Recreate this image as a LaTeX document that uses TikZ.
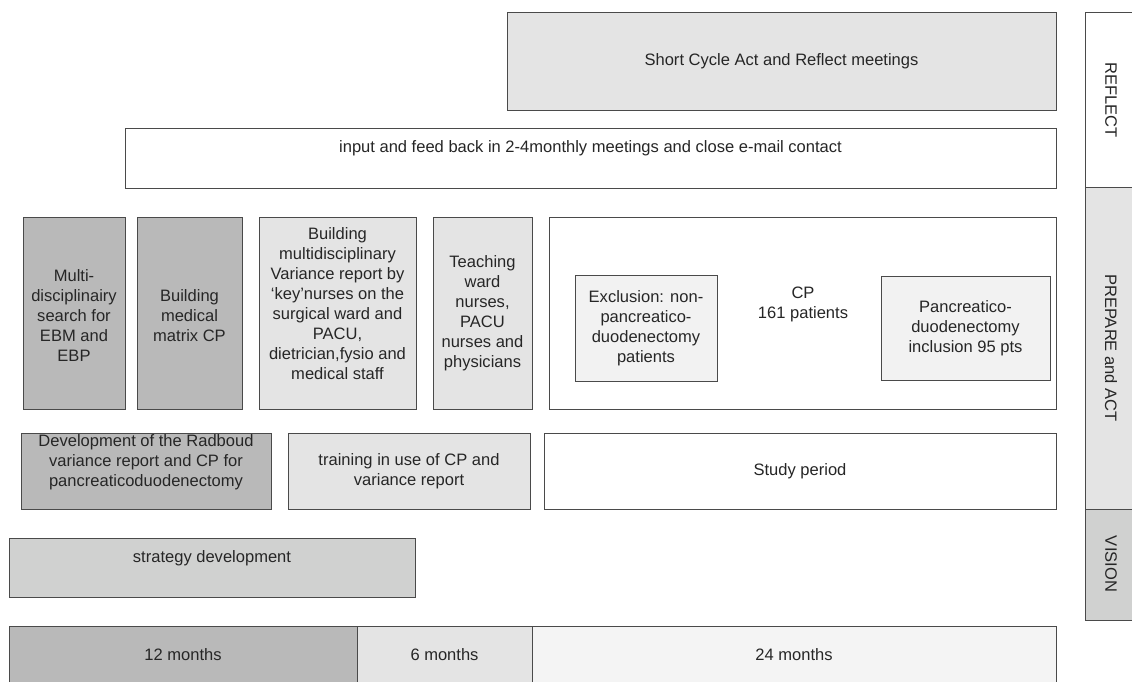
\documentclass[tikz,border=0pt]{standalone}
\usepackage{fontspec}
\setmainfont{Liberation Sans}
\usetikzlibrary{fit}
\definecolor{dk}{HTML}{B9B9B9}
\definecolor{lt}{HTML}{E4E4E4}
\definecolor{md}{HTML}{D0D1D0}
\definecolor{vl}{HTML}{F2F2F2}
\definecolor{wl}{HTML}{F4F4F4}
\definecolor{ln}{HTML}{4A4A4A}
\begin{document}
\begin{tikzpicture}[x=0.75pt,y=-0.75pt,
  box/.style={draw=ln,line width=0.65pt,inner sep=0pt},
  txt/.style={align=center,inner sep=0pt,font=\fontsize{12.4}{15}\selectfont,text=black!85}]
\useasboundingbox (0,0) rectangle (1132,682);
\clip (0,0) rectangle (1132,682);
% reflect row
\node[box,fill=lt,fit={(507,12)(1056,110)}] (sc) {};
\node[txt] (sct) at (sc.center) {Short Cycle Act and Reflect meetings};
\node[box,fill=white,fit={(125,128)(1056,188)}] (fb) {};
\node[txt] (fbt) at (590.5,148) {input and feed back in 2-4monthly meetings and close e-mail contact};
% columns
\node[box,fill=dk,fit={(23,217)(125,409)}] (c1) {};
\node[txt] (c1t) at (74,316) {Multi-\\disciplinairy\\search for\\EBM and\\EBP};
\node[box,fill=dk,fit={(137,217)(242,409)}] (c2) {};
\node[txt] (c2t) at (189.5,316) {Building\\medical\\matrix CP};
\node[box,fill=lt,fit={(259,217)(416,409)}] (c3) {};
\node[txt] (c3t) at (337.5,304) {Building\\multidisciplinary\\Variance report by\\‘key’nurses on the\\surgical ward and\\PACU,\\dietrician,fysio and\\medical staff};
\node[box,fill=lt,fit={(433,217)(532,409)}] (c4) {};
\node[txt] (c4t) at (482.5,313) {Teaching\\ward\\nurses,\\PACU\\nurses and\\physicians};
\node[box,fill=white,fit={(549,217)(1056,409)}] (cp) {};
\node[txt] (cpt) at (803,304) {CP\\161 patients};
\node[box,fill=vl,fit={(575,275)(717,381)}] (ex) {};
\node[txt] (ext) at (ex.center) {Exclusion: non-\\pancreatico-\\duodenectomy\\patients};
\node[box,fill=vl,fit={(881,276)(1050,380)}] (pd) {};
\node[txt] (pdt) at (pd.center) {Pancreatico-\\duodenectomy\\inclusion 95 pts};
% second row
\node[box,fill=dk,fit={(21,433)(271,509)}] (dv) {};
\node[txt] (dvt) at (146,462) {Development of the Radboud\\variance report and CP for\\pancreaticoduodenectomy};
\node[box,fill=lt,fit={(288,433)(530,509)}] (tr) {};
\node[txt] (trt) at (tr.center) {training in use of CP and\\variance report};
\node[box,fill=white,fit={(544,433)(1056,509)}] (sp) {};
\node[txt] (spt) at (sp.center) {Study period};
% strategy
\node[box,fill=md,fit={(9,538)(415,597)}] (sd) {};
\node[txt] (sdt) at (212,558) {strategy development};
% timeline
\node[box,fill=dk,fit={(9,626)(357,690)}] (t12) {};
\node[txt] (t12t) at (183,655) {12 months};
\node[box,fill=lt,fit={(357,626)(532,690)}] (t6) {};
\node[txt] (t6t) at (444.5,655) {6 months};
\node[box,fill=wl,fit={(532,626)(1056,690)}] (t24) {};
\node[txt] (t24t) at (794,655) {24 months};
% right column
\node[box,fill=white,fit={(1085,12)(1140,187)}] (rf) {};
\node[txt,rotate=-90] (rft) at (1111,100) {REFLECT};
\node[box,fill=lt,fit={(1085,187)(1140,509)}] (pa) {};
\node[txt,rotate=-90] (pat) at (1111,348) {PREPARE and ACT};
\node[box,fill=md,fit={(1085,509)(1140,620)}] (vi) {};
\node[txt,rotate=-90] (vit) at (1111,564) {VISION};
\end{tikzpicture}
\end{document}
